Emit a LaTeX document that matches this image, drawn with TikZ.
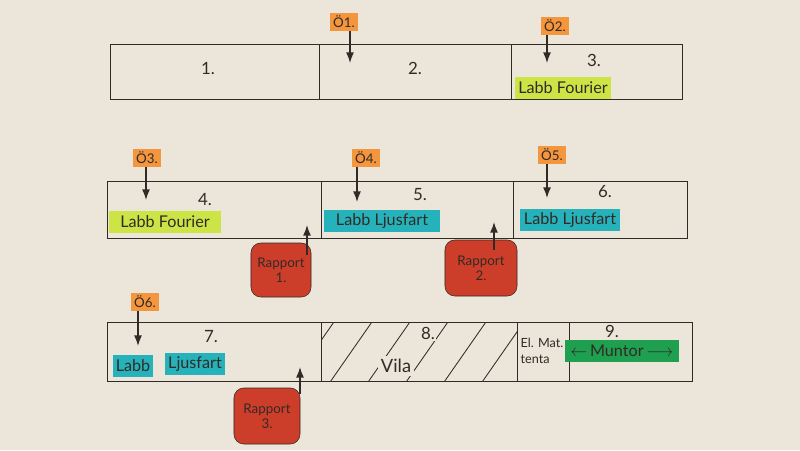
\documentclass[tikz,border=0pt]{standalone}
\usepackage{fontspec}
\setmainfont{Lato}
\usetikzlibrary{positioning,arrows.meta,fit}
\usepackage{xcolor}
\definecolor{paper}{RGB}{235,229,218}
\definecolor{ink}{RGB}{50,42,38}
\definecolor{tagorange}{RGB}{244,150,62}
\definecolor{limehl}{RGB}{205,228,70}
\definecolor{tealhl}{RGB}{38,178,186}
\definecolor{greenhl}{RGB}{30,160,80}
\definecolor{rapred}{RGB}{205,62,42}

\begin{document}
\begin{tikzpicture}[
  x=0.025cm, y=-0.025cm, >=Latex,
  font=\fontsize{11.5}{13}\selectfont, text=ink,
  cell/.style={draw=ink, line width=0.7pt, inner sep=0pt},
  num/.style={text=ink, font=\fontsize{12}{14}\selectfont},
  tag/.style={fill=tagorange, inner sep=2pt, font=\fontsize{9.5}{11}\selectfont},
  hl/.style={inner sep=2pt, minimum height=0.55cm},
  rap/.style={draw=ink, fill=rapred, rounded corners=7pt, align=center, inner sep=3pt, font=\fontsize{9.5}{11}\selectfont},
  arr/.style={->, draw=ink, line width=1pt},
]
\fill[paper] (0,0) rectangle (800,450);

% week 1
\node[cell, fit={(110,44) (319,99)}] (c1) {};
\node[cell, fit={(319,44) (511,99)}] (c2) {};
\node[cell, fit={(511,44) (682,99)}] (c3) {};
\node[num] (n1) at (208,68) {1.};
\node[num] (n2) at (415,68) {2.};
\node[num] (n3) at (594,60) {3.};
\node[hl, fill=limehl] (lab3) at (563,88) {Labb Fourier};

% week 2
\node[cell, fit={(107,181) (321,238)}] (c4) {};
\node[cell, fit={(321,181) (513,238)}] (c5) {};
\node[cell, fit={(513,181) (687,238)}] (c6) {};
\node[num] (n4) at (205,200) {4.};
\node[num] (n5) at (420,195) {5.};
\node[num] (n6) at (605,192) {6.};
\node[hl, fill=limehl, minimum width=2.8cm] (lab4) at (165,222) {Labb Fourier};
\node[hl, fill=tealhl, minimum width=2.9cm] (lab5) at (382,221) {Labb Ljusfart};
\node[hl, fill=tealhl, minimum width=2.5cm] (lab6) at (570,220) {Labb Ljusfart};

% week 3
\node[cell, fit={(107,322) (321,381)}] (c7) {};
\node[cell, fit={(321,322) (517,381)}] (c8) {};
\node[cell, fit={(517,322) (569,381)}] (tenta) {};
\node[cell, fit={(569,322) (692,381)}] (c9) {};
\begin{scope}
  \clip (321,322) rectangle (517,381);
  \foreach \s in {290,328,...,560}
    \draw[ink, line width=0.6pt] (\s,385) -- ++(46,-66);
\end{scope}
\node[num, fill=paper, inner sep=1pt] (n8) at (428,333) {8.};
\node[num] (n7) at (211,337) {7.};
\node[num] (n9) at (612,331) {9.};
\node[hl, fill=tealhl] (lab7a) at (133,366) {Labb};
\node[hl, fill=tealhl] (lab7b) at (195,364) {Ljusfart};
\node[fill=paper, inner sep=2pt, font=\fontsize{13}{15}\selectfont] (vila) at (396,366) {Vila};
\node[align=left, inner sep=0pt, font=\fontsize{9}{11.5}\selectfont] (elmat) at (542,351) {El. Mat.\\tenta};
\node[hl, fill=greenhl, minimum width=2.85cm] (muntor) at (622,351) {{$\leftarrow$}\,Muntor\,{$\longrightarrow$}};

% övningar
\node[tag] (o1) at (344,22) {Ö1.};
\node[tag] (o2) at (555,26) {Ö2.};
\node[tag] (o3) at (147,158) {Ö3.};
\node[tag] (o4) at (366,158) {Ö4.};
\node[tag] (o5) at (552,155) {Ö5.};
\node[tag] (o6) at (145,302) {Ö6.};
\coordinate (a1) at (350,63);
\coordinate (a2) at (547,63);
\coordinate (a3) at (146,200);
\coordinate (a4) at (357,202);
\coordinate (a5) at (547,198);
\coordinate (a6) at (138,346);
\foreach \i in {1,...,6}
  \draw[arr] (o\i.south -| a\i) -- (a\i);

% rapporter
\node[rap, minimum width=1.5cm, minimum height=1.35cm] (r1) at (281,270) {Rapport\\1.};
\node[rap, minimum width=1.8cm, minimum height=1.4cm] (r2) at (481,268) {Rapport\\2.};
\node[rap, minimum width=1.65cm, minimum height=1.4cm] (r3) at (267,416) {Rapport\\3.};
\coordinate (t1) at (307,225);
\coordinate (t2) at (494,222);
\coordinate (t3) at (300,367);
\draw[arr] (r1.north -| t1) ++(0,12) -- (t1);
\draw[arr] (r2.north -| t2) ++(0,10) -- (t2);
\draw[arr] (r3.north -| t3) ++(0,6) -- (t3);
\end{tikzpicture}
\end{document}
